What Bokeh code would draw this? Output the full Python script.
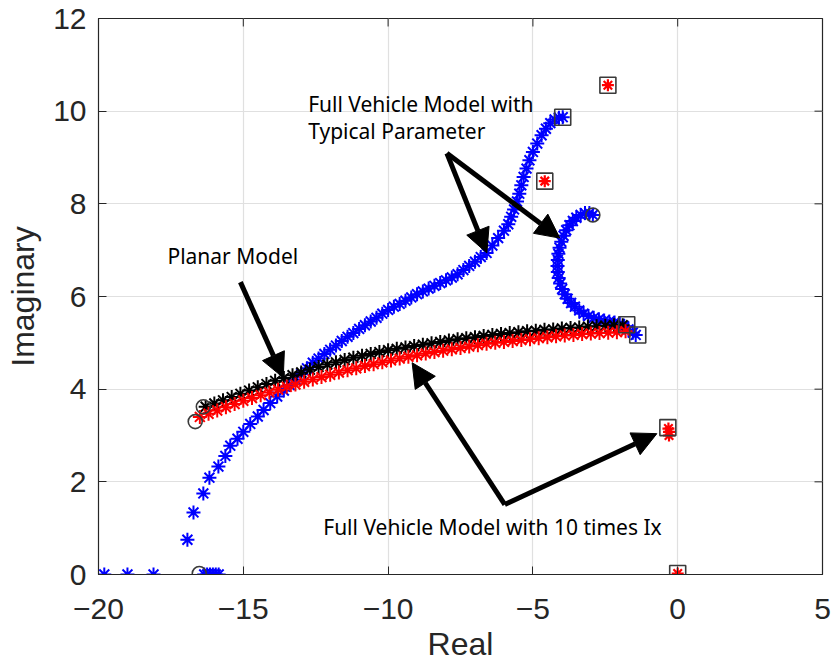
from bokeh.plotting import figure
from bokeh.models import (Arrow, NormalHead, FixedTicker, Range1d)
from bokeh.core.properties import value
from bokeh.embed import file_html
from bokeh.resources import INLINE

# ---------------- data ----------------
planar_re = [-16.3, -16.0, -15.7, -15.4, -15.1, -14.8, -14.5, -14.2, -13.9, -13.6, -13.3, -13.0,
             -12.7, -12.4, -12.1, -11.8, -11.5, -11.2, -10.9, -10.6, -10.3, -10.0, -9.7, -9.4,
             -9.1, -8.8, -8.5, -8.2, -7.9, -7.6, -7.3, -7.0, -6.7, -6.4, -6.1, -5.8, -5.5, -5.2,
             -4.9, -4.6, -4.3, -4.0, -3.7, -3.4, -3.1, -2.8, -2.5, -2.2, -1.9]
planar_im = [3.62, 3.69, 3.76, 3.83, 3.90, 3.97, 4.04, 4.11, 4.18, 4.24, 4.30, 4.36,
             4.42, 4.48, 4.53, 4.58, 4.63, 4.68, 4.72, 4.76, 4.80, 4.84, 4.87, 4.90,
             4.93, 4.96, 4.99, 5.02, 5.05, 5.08, 5.10, 5.12, 5.15, 5.17, 5.19, 5.21, 5.23, 5.25,
             5.26, 5.28, 5.29, 5.31, 5.32, 5.33, 5.35, 5.36, 5.37, 5.38, 5.38]

ix10_re = [-16.5, -16.2, -15.9, -15.6, -15.3, -15.0, -14.7, -14.4, -14.1, -13.8, -13.5, -13.2,
           -12.9, -12.6, -12.3, -12.0, -11.7, -11.4, -11.1, -10.8, -10.5, -10.2, -9.9, -9.6,
           -9.3, -9.0, -8.7, -8.4, -8.1, -7.8, -7.5, -7.2, -6.9, -6.6, -6.3, -6.0, -5.7, -5.4,
           -5.1, -4.8, -4.5, -4.2, -3.9, -3.6, -3.3, -3.0, -2.7, -2.4, -2.1, -1.8]
ix10_im = [3.40, 3.47, 3.54, 3.61, 3.68, 3.75, 3.81, 3.87, 3.93, 3.99, 4.05, 4.10,
           4.16, 4.21, 4.26, 4.31, 4.36, 4.41, 4.45, 4.50, 4.54, 4.58, 4.62, 4.66,
           4.70, 4.73, 4.77, 4.80, 4.83, 4.86, 4.89, 4.92, 4.95, 4.98, 5.00, 5.02, 5.04, 5.06,
           5.08, 5.10, 5.12, 5.14, 5.16, 5.17, 5.19, 5.20, 5.21, 5.22, 5.23, 5.25]
ix10_fixed_re = [-2.41, -4.59, -0.32, -0.30, -0.30, 0.0]
ix10_fixed_im = [10.56, 8.49, 3.15, 3.08, 3.00, 0.02]

typ1_re = [-19.8, -19.0, -18.1, -16.35, -16.25, -16.15, -16.05, -15.95, -15.85,
           -16.93, -16.72, -16.38, -16.17, -15.86, -15.62, -15.45, -15.2, -15.0, -14.76,
           -14.5, -14.3, -14.07, -13.83, -13.6, -13.4, -13.2, -13.0, -12.8, -12.6, -12.4,
           -12.2, -12.0, -11.8, -11.6, -11.4, -11.2, -11.0, -10.8, -10.6, -10.4, -10.2,
           -10.0, -9.8, -9.6, -9.4, -9.2, -9.0, -8.8, -8.6, -8.4, -8.2, -8.0, -7.8, -7.6,
           -7.4, -7.2, -7.0, -6.8, -6.6, -6.4, -6.2, -6.0, -5.85, -5.75, -5.65, -5.55,
           -5.47, -5.40, -5.32, -5.22, -5.12, -5.00, -4.85, -4.70, -4.55, -4.40, -4.25,
           -4.10, -3.97]
typ1_im = [0.0, 0.0, 0.0, 0.0, 0.0, 0.0, 0.0, 0.0, 0.0,
           0.75, 1.34, 1.75, 2.09, 2.33, 2.56, 2.78, 2.93, 3.08, 3.25,
           3.41, 3.55, 3.70, 3.84, 3.97, 4.09, 4.21, 4.33, 4.45, 4.57, 4.66,
           4.76, 4.85, 4.94, 5.04, 5.13, 5.21, 5.30, 5.38, 5.46, 5.54, 5.63,
           5.71, 5.78, 5.84, 5.91, 5.98, 6.05, 6.11, 6.17, 6.23, 6.29, 6.35, 6.41, 6.48,
           6.57, 6.66, 6.75, 6.85, 6.94, 7.10, 7.26, 7.42, 7.56, 7.72, 7.88, 8.05,
           8.22, 8.40, 8.58, 8.76, 8.94, 9.12, 9.30, 9.48, 9.62, 9.74, 9.82,
           9.86, 9.87]

typ2_re = [-2.93, -3.05, -3.20, -3.35, -3.50, -3.62, -3.74, -3.85, -3.94, -4.02, -4.08, -4.12,
           -4.14, -4.15, -4.14, -4.11, -4.06, -3.99, -3.90, -3.80, -3.68, -3.55, -3.40, -3.25,
           -3.08, -2.90, -2.72, -2.54, -2.36, -2.18, -2.00, -1.85, -1.70, -1.55, -1.45]
typ2_im = [7.76, 7.80, 7.80, 7.76, 7.70, 7.63, 7.54, 7.43, 7.31, 7.18, 7.05, 6.92,
           6.79, 6.66, 6.53, 6.40, 6.28, 6.16, 6.05, 5.95, 5.86, 5.78, 5.70, 5.63,
           5.58, 5.54, 5.51, 5.48, 5.46, 5.44, 5.41, 5.36, 5.29, 5.22, 5.17]

start_re = [-16.38, -16.66, -16.52, -2.93]
start_im = [3.62, 3.30, 0.02, 7.76]
end_re = [-2.41, -4.59, -3.97, -1.76, -1.38, -0.34, 0.0]
end_im = [10.56, 8.49, 9.87, 5.39, 5.17, 3.17, 0.02]

x_ticks = [-20, -15, -10, -5, 0, 5]
x_tick_labels = ["\u221220", "\u221215", "\u221210", "\u22125", "0", "5"]
y_ticks = [0, 2, 4, 6, 8, 10, 12]

note_text = ["Full Vehicle Model with", "Typical Parameter", "Planar Model",
             "Full Vehicle Model with 10 times Ix"]
note_x = [-12.76, -12.76, -17.62, -12.24]
note_y = [10.15, 9.57, 6.88, 1.03]

arrow_x0 = [-7.97, -7.97, -15.1, -5.97, -5.97]
arrow_y0 = [9.09, 9.09, 6.31, 1.51, 1.51]
arrow_x1 = [-6.59, -4.07, -13.62, -9.17, -0.72]
arrow_y1 = [6.94, 7.26, 4.25, 4.57, 3.04]

# ---------------- figure ----------------
AX = "#262626"
XMIN, XMAX, YMIN, YMAX = -20, 5, 0, 12
W, H = 831, 664
BL, BR, BT, BB = 98, 9, 18, 89
p = figure(width=W, height=H, output_backend="svg", toolbar_location=None,
           x_range=Range1d(XMIN, XMAX), y_range=Range1d(YMIN, YMAX),
           min_border_left=BL, min_border_right=BR, min_border_top=BT, min_border_bottom=BB)
p.background_fill_color = "white"
p.border_fill_color = "white"
p.outline_line_color = AX
p.outline_line_width = 1.2

for ax in (p.xaxis[0], p.yaxis[0]):
    ax.major_tick_in = 8
    ax.major_tick_out = 0
    ax.minor_tick_in = 0
    ax.minor_tick_out = 0
    ax.axis_line_color = AX
    ax.major_tick_line_color = AX
    ax.major_label_text_color = AX
    ax.major_label_text_font = "Liberation Sans"
    ax.major_label_text_font_size = "30px"
    ax.axis_label_text_font = "Liberation Sans"
    ax.axis_label_text_font_size = "32px"
    ax.axis_label_text_font_style = "normal"
    ax.axis_label_text_color = AX

p.xaxis[0].ticker = FixedTicker(ticks=x_ticks)
p.xaxis[0].major_label_overrides = {t: l for t, l in zip(x_ticks, x_tick_labels)}
p.xaxis[0].major_label_standoff = 24
p.xaxis[0].axis_label = "Real"
p.xaxis[0].axis_label_standoff = 4
p.yaxis[0].ticker = FixedTicker(ticks=y_ticks)
p.yaxis[0].major_label_standoff = 12
p.yaxis[0].axis_label = "Imaginary"
p.yaxis[0].axis_label_standoff = 9

p.xgrid.ticker = FixedTicker(ticks=x_ticks)
p.ygrid.ticker = FixedTicker(ticks=y_ticks)
p.grid.grid_line_color = "#e0e0e0"
p.grid.grid_line_width = 1.2

# inward ticks on the top and right edges of the box
tick_len_y = 8 * (YMAX - YMIN) / (H - BT - BB)
tick_len_x = 8 * (XMAX - XMIN) / (W - BL - BR)
p.segment(x0=x_ticks, y0=[YMAX] * len(x_ticks), x1=x_ticks, y1=[YMAX - tick_len_y] * len(x_ticks),
          line_color=AX, line_width=1)
p.segment(x0=[XMAX] * len(y_ticks), y0=y_ticks, x1=[XMAX - tick_len_x] * len(y_ticks), y1=y_ticks,
          line_color=AX, line_width=1)

# series
ms, lw = 14, 2.0
p.scatter(typ1_re, typ1_im, marker="asterisk", size=ms, line_color="#0000ff", line_width=lw)
p.scatter(typ2_re, typ2_im, marker="asterisk", size=ms, line_color="#0000ff", line_width=lw)
p.scatter(planar_re, planar_im, marker="asterisk", size=ms, line_color="#000000", line_width=lw)
p.scatter(ix10_re, ix10_im, marker="asterisk", size=ms, line_color="#ff0000", line_width=lw)
p.scatter(ix10_fixed_re, ix10_fixed_im, marker="asterisk", size=12, line_color="#ff0000", line_width=2.2)
p.scatter(start_re, start_im, marker="circle", size=14, fill_color=None, line_color="#3a3a3a", line_width=1.6)
p.scatter(end_re, end_im, marker="square", size=16, fill_color=None, line_color="#3a3a3a", line_width=1.6)

# annotations
p.text(x=note_x, y=note_y, text=note_text, text_font=value("Noto Sans"), text_font_size="21px",
       text_baseline="middle", text_align="left", text_color="#000000")

for x0, y0, x1, y1 in zip(arrow_x0, arrow_y0, arrow_x1, arrow_y1):
    p.add_layout(Arrow(end=NormalHead(size=24, fill_color="black", line_color="black", line_width=1),
                       x_start=x0, y_start=y0, x_end=x1, y_end=y1,
                       line_width=5, line_color="black"))

open("out.html", "w").write(file_html(p, INLINE))
